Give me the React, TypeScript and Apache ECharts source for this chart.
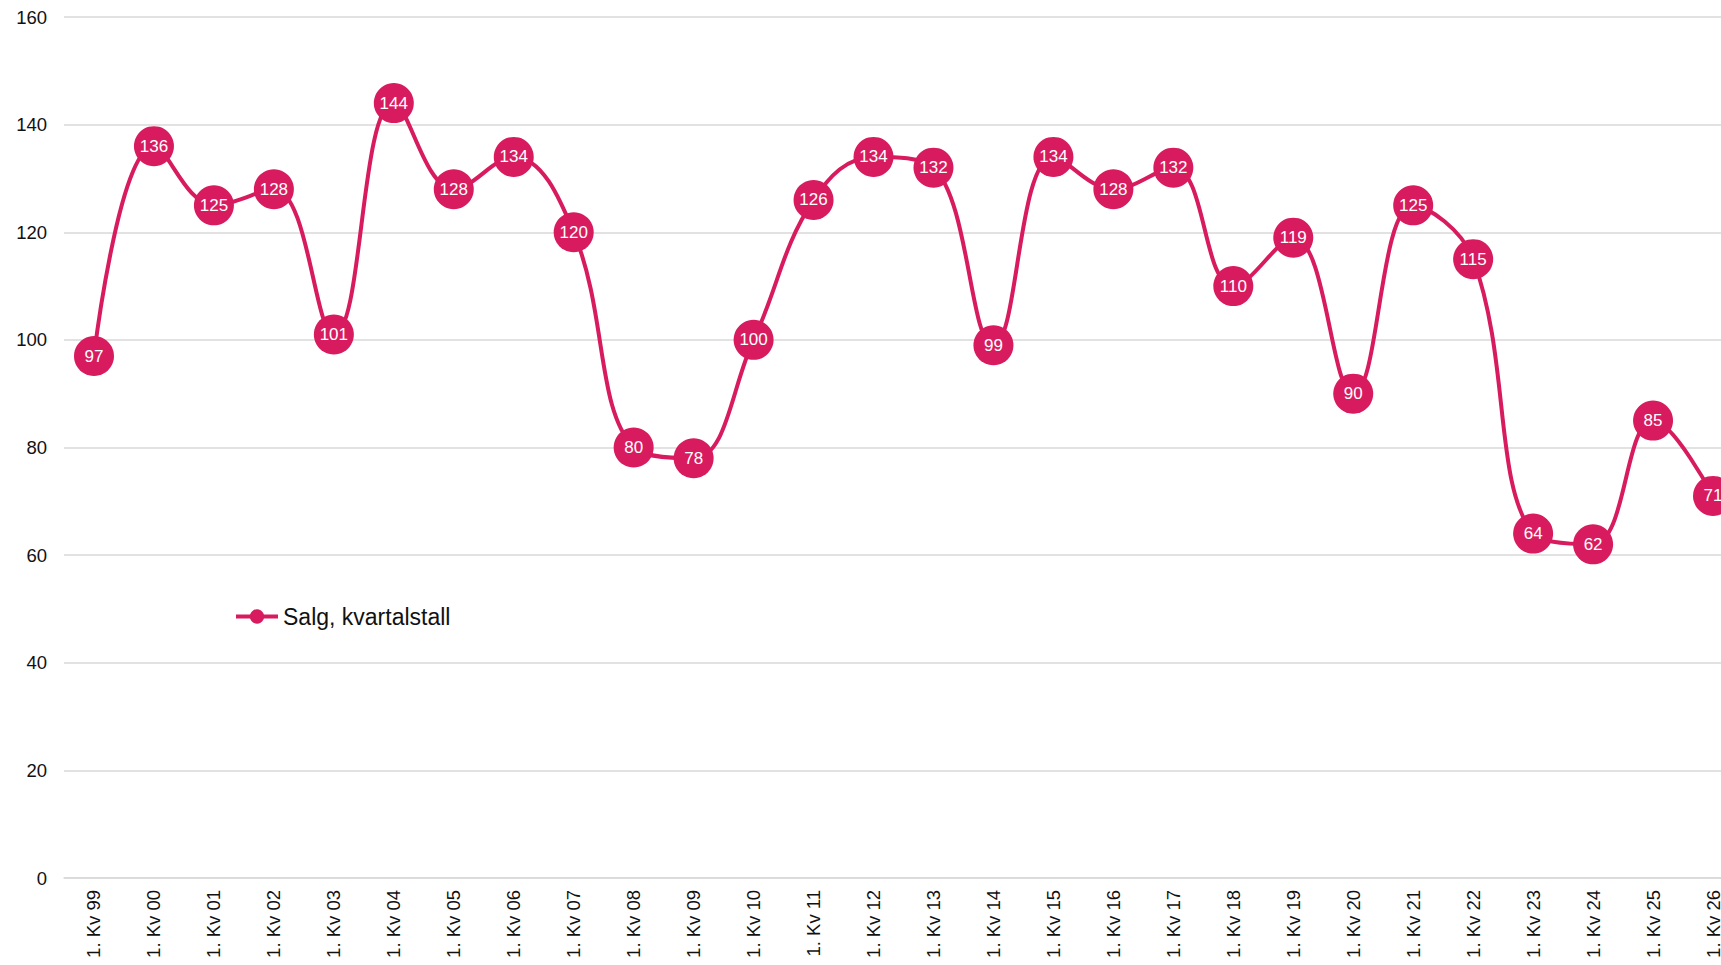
import React, { useEffect, useRef } from "react";
import * as echarts from "echarts";

const categories = [
  "1. Kv 99", "1. Kv 00", "1. Kv 01", "1. Kv 02", "1. Kv 03", "1. Kv 04", "1. Kv 05",
  "1. Kv 06", "1. Kv 07", "1. Kv 08", "1. Kv 09", "1. Kv 10", "1. Kv 11", "1. Kv 12",
  "1. Kv 13", "1. Kv 14", "1. Kv 15", "1. Kv 16", "1. Kv 17", "1. Kv 18", "1. Kv 19",
  "1. Kv 20", "1. Kv 21", "1. Kv 22", "1. Kv 23", "1. Kv 24", "1. Kv 25", "1. Kv 26",
];
const salesValues = [
  97, 136, 125, 128, 101, 144, 128, 134, 120, 80, 78, 100, 126, 134,
  132, 99, 134, 128, 132, 110, 119, 90, 125, 115, 64, 62, 85, 71,
];
const seriesName = "Salg, kvartalstall";

export default function App() {
  const ref = useRef<HTMLDivElement>(null);
  useEffect(() => {
    if (!ref.current) return;
    const chart = echarts.init(ref.current, null, { renderer: "svg" });
    const color = "#d81b5e";
    const font = "Liberation Sans, Arial, sans-serif";
    chart.setOption({
      animation: false,
      backgroundColor: "#ffffff",
      textStyle: { fontFamily: font },
      grid: {
        left: 64,
        width: 1679,
        top: 17,
        height: 861,
        containLabel: false,
        outerBoundsMode: "none",
      },
      legend: {
        left: 229,
        top: 600,
        itemWidth: 42,
        itemHeight: 18,
        itemGap: 4,
        lineStyle: { width: 4 },
        textStyle: { fontSize: 23, color: "#111", fontFamily: font },
        data: [seriesName],
      },
      xAxis: {
        type: "category",
        data: categories,
        boundaryGap: true,
        axisLine: { show: true, lineStyle: { color: "#d9d9d9", width: 1.5 } },
        axisTick: { show: false },
        axisLabel: {
          rotate: 90,
          interval: 0,
          fontSize: 18.5,
          color: "#111",
          margin: 12,
          fontFamily: font,
        },
      },
      yAxis: {
        type: "value",
        min: 0,
        max: 160,
        interval: 20,
        axisLine: { show: false },
        axisTick: { show: false },
        splitLine: { lineStyle: { color: "#d9d9d9", width: 1.5 } },
        axisLabel: { fontSize: 18.5, color: "#111", margin: 17, fontFamily: font },
      },
      series: [
        {
          name: seriesName,
          type: "line",
          data: salesValues,
          smooth: 0.4,
          symbol: "circle",
          symbolSize: 40,
          itemStyle: { color },
          lineStyle: { color, width: 4 },
          label: {
            show: true,
            position: "inside",
            color: "#fff",
            fontSize: 17,
            fontFamily: font,
          },
        },
      ],
    });
    return () => chart.dispose();
  }, []);
  return (
    <div
      ref={ref}
      style={{ position: "fixed", left: 0, top: 0, width: 1721, height: 965 }}
    />
  );
}
